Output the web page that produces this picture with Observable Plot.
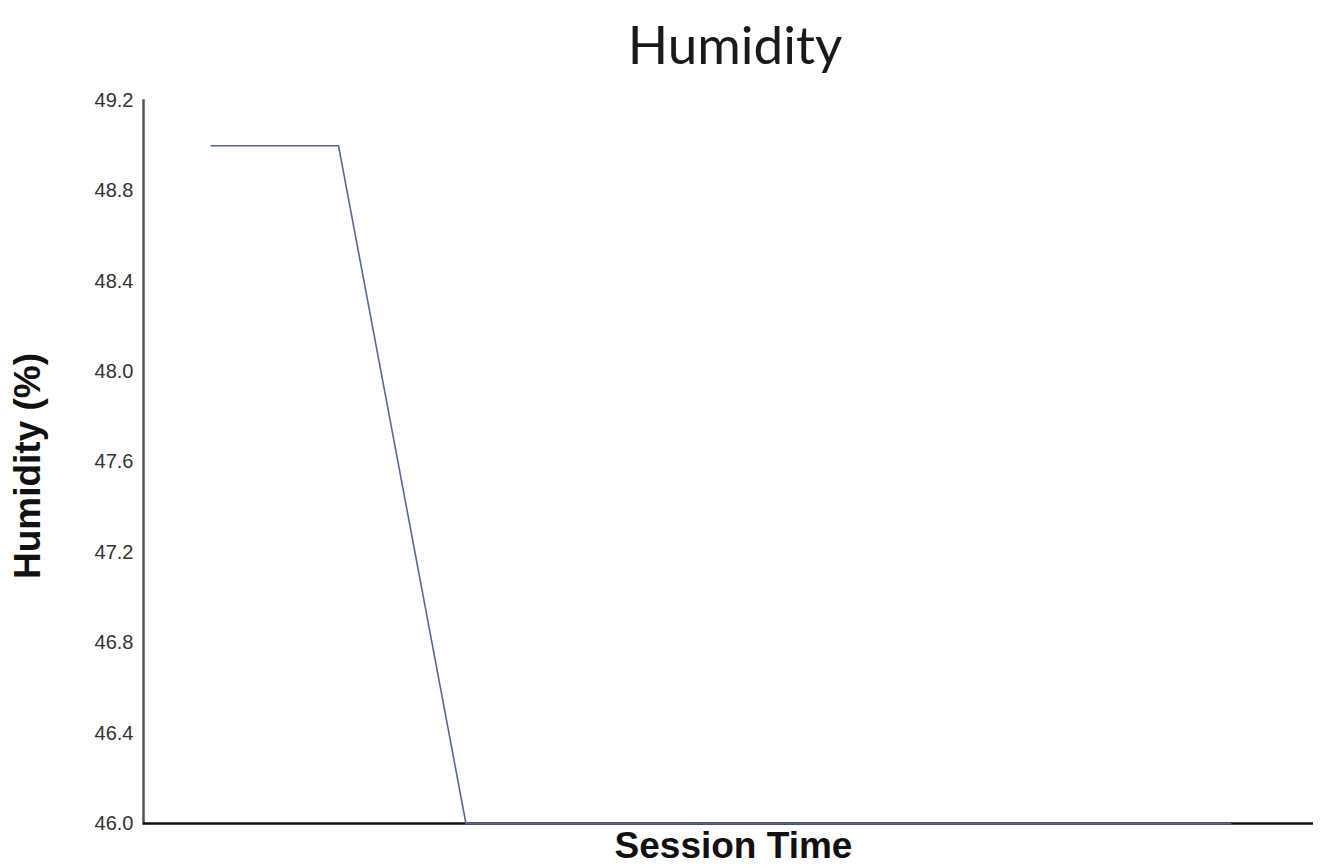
<!DOCTYPE html>
<html>
<head>
<meta charset="utf-8">
<script src="https://cdn.jsdelivr.net/npm/d3@7"></script>
<script src="https://cdn.jsdelivr.net/npm/@observablehq/plot@0.6"></script>
<style>
  html, body { margin: 0; padding: 0; background: #fff; overflow: hidden; }
  #title { height: 88px; line-height: 88px; text-align: center; font-family: Lato, "Open Sans", sans-serif; font-size: 53px; color: #1a1a1a; padding-left: 146px; box-sizing: border-box; }
</style>
</head>
<body>
<div id="title">Humidity</div>
<div id="chart"></div>
<script>
const sessionTime = [0, 1, 2, 3, 4, 5, 6, 7, 8];
const humidity = [49.0, 49.0, 46.0, 46.0, 46.0, 46.0, 46.0, 46.0, 46.0];
const yTicks = [46.0, 46.4, 46.8, 47.2, 47.6, 48.0, 48.4, 48.8, 49.2];
const yLabel = "Humidity (%)";
const xLabel = "Session Time";

const data = sessionTime.map((t, i) => ({t, h: humidity[i]}));

const chart = Plot.plot({
  width: 1324,
  height: 780,
  marginLeft: 143,
  marginRight: 11,
  marginTop: 12,
  marginBottom: 45,
  style: {background: "#fff", fontFamily: "Liberation Sans, Arial, sans-serif"},
  x: {domain: [-0.53, 8.65], axis: null},
  y: {domain: [46.0, 49.2], axis: null},
  marks: [
    Plot.axisY({ticks: yTicks, tickSize: 0, tickPadding: 10, tickFormat: d => d.toFixed(1), fontSize: 20, letterSpacing: 1, color: "#333", label: null}),
    Plot.frame({anchor: "left", stroke: "#555", strokeWidth: 2.5}),
    Plot.ruleY([46.0], {stroke: "#111", strokeWidth: 2.5}),
    Plot.line(data, {x: "t", y: "h", stroke: "#56679a", strokeWidth: 1.6}),
    Plot.text([yLabel], {frameAnchor: "left", textAnchor: "middle", dx: -115, dy: 4, rotate: -90, fontSize: 37, fontWeight: "bold", fill: "#111"}),
    Plot.text([xLabel], {frameAnchor: "bottom", dy: 34, dx: 5, fontSize: 37, fontWeight: "bold", fill: "#111"})
  ]
});
document.getElementById("chart").append(chart);
</script>
</body>
</html>
